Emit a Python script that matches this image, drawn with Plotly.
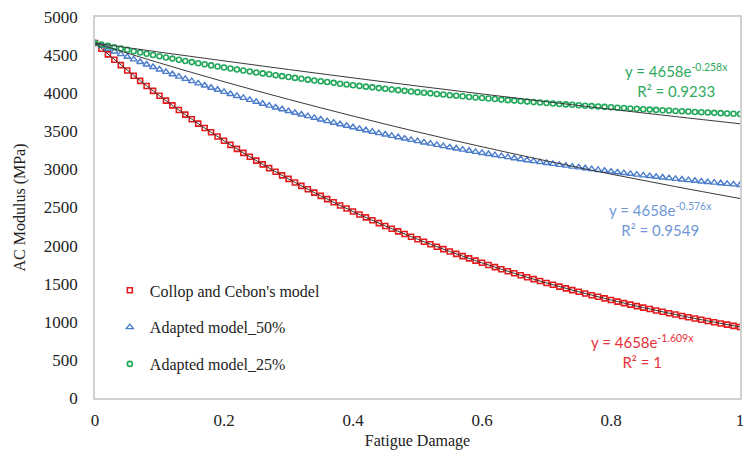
import plotly.graph_objects as go

# Fatigue damage values (x)
damage = [round(i / 100, 2) for i in range(101)]

collop_cebon = [4658,4584,4510,4439,4368,4298,4229,4162,4095,4030,
3966,3902,3840,3779,3719,3659,3601,3543,3487,3431,
3376,3322,3269,3217,3166,3115,3066,3017,2969,2921,
2875,2829,2784,2739,2695,2652,2610,2568,2527,2487,
2447,2408,2370,2332,2295,2258,2222,2187,2152,2117,
2084,2050,2018,1985,1954,1923,1892,1862,1832,1803,
1774,1746,1718,1690,1663,1637,1611,1585,1560,1535,
1510,1486,1462,1439,1416,1394,1371,1349,1328,1307,
1286,1265,1245,1225,1206,1186,1168,1149,1131,1112,
1095,1077,1060,1043,1027,1010,994,978,963,947,932]

adapted_50 = [4658,4621,4584,4548,4513,4478,4444,4410,4377,4344,
4312,4280,4249,4218,4188,4159,4129,4101,4072,4045,
4017,3990,3964,3938,3912,3887,3862,3837,3813,3790,
3766,3743,3721,3699,3677,3655,3634,3613,3593,3573,
3553,3533,3514,3495,3476,3458,3440,3422,3405,3388,
3371,3354,3338,3322,3306,3290,3275,3260,3245,3230,
3216,3202,3188,3174,3161,3147,3134,3121,3109,3096,
3084,3072,3060,3049,3037,3026,3015,3004,2993,2982,
2972,2962,2952,2942,2932,2922,2913,2903,2894,2885,
2876,2868,2859,2851,2842,2834,2826,2818,2810,2803,2795]

adapted_25 = [4658,4639,4621,4603,4585,4568,4551,4534,4517,4501,
4485,4469,4454,4438,4423,4408,4394,4379,4365,4351,
4338,4324,4311,4298,4285,4272,4260,4248,4236,4224,
4212,4201,4189,4178,4167,4157,4146,4136,4125,4115,
4105,4096,4086,4077,4067,4058,4049,4040,4031,4023,
4014,4006,3998,3990,3982,3974,3966,3959,3951,3944,
3937,3930,3923,3916,3909,3903,3896,3890,3883,3877,
3871,3865,3859,3853,3848,3842,3836,3831,3825,3820,
3815,3810,3805,3800,3795,3790,3785,3781,3776,3772,
3767,3763,3759,3754,3750,3746,3742,3738,3734,3730,3727]

# Trendline points (exponential fits)
trend_x = [0, 0.1, 0.2, 0.3, 0.4, 0.5, 0.6, 0.7, 0.8, 0.9, 1.0]
trend_cc = [4658, 3966, 3376, 2875, 2447, 2084, 1774, 1510, 1286, 1095, 932]
trend_50 = [4658, 4397, 4151, 3919, 3700, 3492, 3297, 3112, 2938, 2774, 2618]
trend_25 = [4658, 4539, 4424, 4311, 4201, 4094, 3990, 3888, 3789, 3693, 3599]

series_names = ["Collop and Cebon's model", "Adapted model_50%", "Adapted model_25%"]
x_ticks = [0, 0.2, 0.4, 0.6, 0.8, 1]
x_tick_labels = ["0", "0.2", "0.4", "0.6", "0.8", "1"]
y_ticks = list(range(0, 5001, 500))

serif = "Liberation Serif, Times New Roman, serif"
sans = "Lato, Carlito, Calibri, sans-serif"

fig = go.Figure()
fig.add_trace(go.Scatter(x=damage, y=collop_cebon, mode="markers", name=series_names[0],
                         legendgroup="a",
                         marker=dict(symbol="square-open", size=5, color="#E41A1C", line=dict(width=1.6))))
fig.add_trace(go.Scatter(x=damage, y=adapted_50, mode="markers", name=series_names[1],
                         legendgroup="b",
                         marker=dict(symbol="triangle-up-open", size=6, color="#4A7CCB", line=dict(width=1.4))))
fig.add_trace(go.Scatter(x=damage, y=adapted_25, mode="markers", name=series_names[2],
                         legendgroup="c",
                         marker=dict(symbol="circle-open", size=5, color="#20A85A", line=dict(width=1.6))))

for ty in (trend_cc, trend_50, trend_25):
    fig.add_trace(go.Scatter(x=trend_x, y=ty, mode="lines", showlegend=False, hoverinfo="skip",
                             line=dict(color="#3A3A3A", width=1, shape="spline")))

annots = [
    (0.901, 4173, "y = 4658e<sup>-0.258x</sup><br>R² = 0.9233", "#2EAA5E"),
    (0.877, 2349, "y = 4658e<sup>-0.576x</sup><br>R² = 0.9549", "#6F97D6"),
    (0.849, 604, "y = 4658e<sup>-1.609x</sup><br>R² = 1", "#E8303A"),
]
for ax_, ay_, txt, col in annots:
    fig.add_annotation(x=ax_, y=ay_, xref="x", yref="y", text=txt, showarrow=False,
                       align="center", xanchor="center", yanchor="middle",
                       font=dict(family=sans, size=15, color=col))

fig.update_layout(
    width=744, height=458,
    margin=dict(l=95, r=0, t=17, b=60),
    paper_bgcolor="white", plot_bgcolor="white",
    font=dict(family=serif, size=16, color="#222222"),
    legend=dict(x=0.023, y=0.327, xanchor="left", yanchor="top",
                bgcolor="rgba(0,0,0,0)", tracegroupgap=13, traceorder="grouped",
                font=dict(family=serif, size=16, color="#222222")),
    xaxis=dict(range=[0, 1], tickvals=x_ticks, ticktext=x_tick_labels, showgrid=False,
               zeroline=False, showline=True, linecolor="#D0D0D0", linewidth=1.5, mirror=True,
               ticks="", ticklabelstandoff=6, ticklabeloverflow="allow", tickfont=dict(size=17),
               title=dict(text="Fatigue Damage", font=dict(size=16), standoff=6)),
    yaxis=dict(range=[0, 5000], tickvals=y_ticks, showgrid=False,
               zeroline=False, showline=True, linecolor="#D0D0D0", linewidth=1.5, mirror=True,
               ticks="", ticklabelstandoff=12, tickfont=dict(size=17),
               title=dict(text="AC Modulus (MPa)", font=dict(size=16), standoff=14)),
)

fig.write_html("out.html")
